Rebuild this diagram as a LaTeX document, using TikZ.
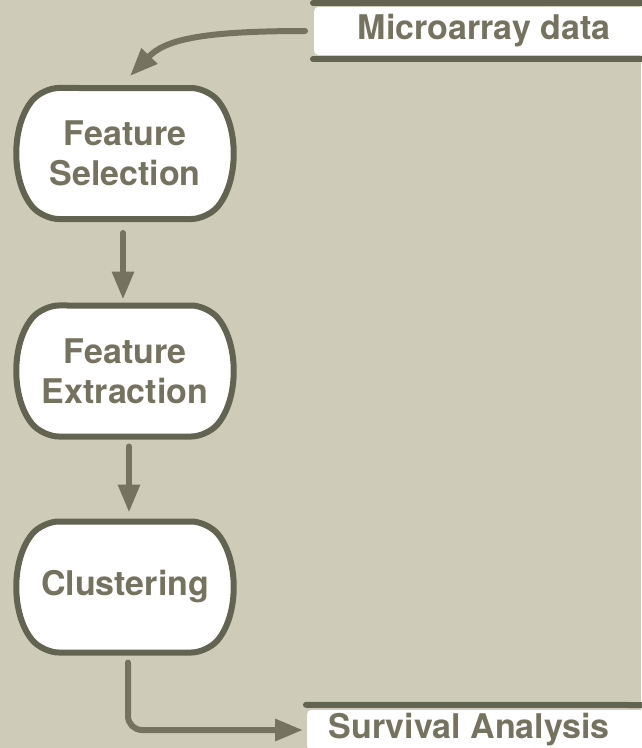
\documentclass[tikz,border=0pt]{standalone}
\usepackage{fontspec}
\setmainfont{TeX Gyre Heros}
\usetikzlibrary{arrows.meta,calc,positioning,shapes.misc}
\definecolor{bgcol}{RGB}{206,203,185}
\definecolor{edgecol}{RGB}{98,99,80}
\definecolor{inkcol}{RGB}{117,115,96}

\begin{document}
\begin{tikzpicture}[x=1pt,y=-1pt,
		stepbox/.style={rounded rectangle, rounded rectangle arc length=80, rounded corners=16pt, draw=edgecol, line width=6pt, fill=white, minimum width=219pt, minimum height=131pt, align=center, text=inkcol, font=\bfseries\fontsize{34}{40}\selectfont},
		store/.style={rectangle, fill=white, rounded corners=4pt, minimum width=340pt, inner sep=0pt, anchor=west, text=inkcol, font=\bfseries\fontsize{34}{40}\selectfont},
		storeline/.style={draw=edgecol, line width=6pt, line cap=round},
		flow/.style={draw=inkcol, line width=6pt, line cap=round, -{Triangle[length=28pt,width=21pt]}}]
		\fill[bgcol] (0,0) rectangle (641,748);
		\useasboundingbox (0,0) rectangle (641,748);
		% process steps
		\node[stepbox] (fsel) at (125,153.5) {Feature\\Selection};
		\node[stepbox] (fext) at (125,371) {Feature\\Extraction};
		\node[stepbox] (clus) at (125,587) {Clustering};
		% data stores
		\node[store, minimum height=48pt] (micro) at (314,31) {Microarray data};
		\node[store, minimum height=40pt, minimum width=324pt] (surv) at (307,730) {Survival Analysis};
		\fill[white] (surv.east) ++(-10,-20) rectangle (645,750);
		\draw[storeline] ([shift={(-1,-4)}]micro.north west) -- ([shift={(0,-4)}]micro.north east);
		\draw[storeline] ([shift={(-1,4)}]micro.south west) -- ([shift={(0,4)}]micro.south east);
		\draw[storeline] ([shift={(-1,-5)}]surv.north west) -- (645,705);
		% connectors
		\draw[flow] ([xshift=-9pt]micro.west) .. controls +(-105,0) and +(35,-36) .. ($(fsel.north)+(5,-9)$);
		\draw[flow] ($(fsel.south)+(-2,11)$) -- ($(fext.north)+(-2,-3)$);
		\draw[flow] ($(fext.south)+(4,7)$) -- ($(clus.north)+(4,-6)$);
		\draw[flow, rounded corners=14pt] ($(clus.south)+(3,7)$) |- ([xshift=-4pt]surv.west);
	\end{tikzpicture}
\end{document}
